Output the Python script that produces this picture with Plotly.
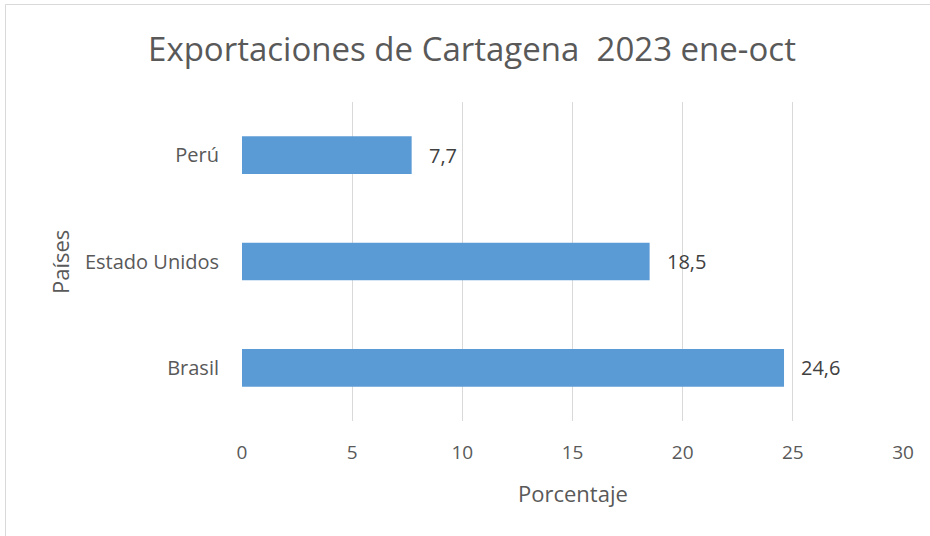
import plotly.graph_objects as go

paises = ["Brasil", "Estado Unidos", "Perú"]
porcentaje = [24.6, 18.5, 7.7]
x_ticks = [0, 5, 10, 15, 20, 25, 30]

W, H = 930, 536
L, R, T, B = 242, 27, 102, 115
pw, ph = W - L - R, H - T - B

def px(x):
    return (x - L) / pw

def py(y):
    return 1 - (y - T) / ph

FONT = "Open Sans, sans-serif"
TXT = "#595959"
fig = go.Figure(go.Bar(
    y=paises, x=porcentaje, orientation="h",
    marker=dict(color="#5B9BD5", line=dict(width=0)),
    width=0.355,
    hoverinfo="x+y",
))

for p, v in zip(paises, porcentaje):
    fig.add_annotation(x=v, y=p, xref="x", yref="y", text=f"{v:.1f}".replace(".", ","),
                       showarrow=False, xanchor="left", yanchor="middle", xshift=15,
                       font=dict(family=FONT, size=20, color="#404040"))

fig.add_annotation(x=px(573), y=py(493), xref="paper", yref="paper", text="Porcentaje",
                   showarrow=False, xanchor="center", yanchor="middle",
                   font=dict(family=FONT, size=22, color=TXT))
fig.add_annotation(x=px(60), y=py(262), xref="paper", yref="paper", text="Países",
                   showarrow=False, xanchor="center", yanchor="middle", textangle=-90,
                   font=dict(family=FONT, size=22, color=TXT))

fig.update_layout(
    width=W, height=H,
    margin=dict(l=L, r=R, t=T, b=B),
    paper_bgcolor="white", plot_bgcolor="white",
    showlegend=False,
    title=dict(text="Exportaciones de Cartagena  2023 ene-oct", x=px(472), xanchor="center", xref="paper",
               y=1 - 49 / H, yanchor="middle",
               font=dict(family=FONT, size=33, color=TXT)),
    xaxis=dict(range=[0, 30], tickvals=x_ticks, showgrid=True, gridcolor="#D9D9D9", gridwidth=1.3,
               zeroline=False, showline=False, ticks="", ticklabelstandoff=18,
               tickfont=dict(family=FONT, size=19, color=TXT)),
    yaxis=dict(showgrid=False, zeroline=False, showline=False, ticks="",
               tickfont=dict(family=FONT, size=20, color=TXT), ticklabelstandoff=22),
    bargap=0.65,
    shapes=[dict(type="rect", xref="paper", yref="paper",
                 x0=px(5.5), x1=px(960), y0=py(560), y1=py(4.5),
                 line=dict(color="#D9D9D9", width=1), fillcolor="rgba(0,0,0,0)", layer="below")],
)

fig.write_html("out.html", config={"displayModeBar": False},
               post_script="document.body.style.margin='0px';")
